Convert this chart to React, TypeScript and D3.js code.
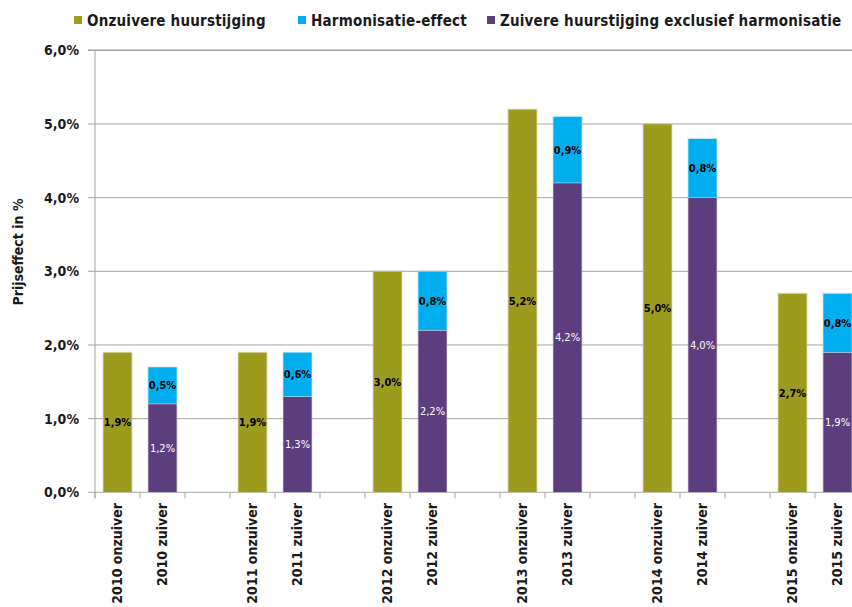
import React from 'react';
import * as d3 from 'd3';

// values (percent)
const years = ['2010', '2011', '2012', '2013', '2014', '2015'];
const onzuiver = [1.9, 1.9, 3.0, 5.2, 5.0, 2.7];
const zuiverExcl = [1.2, 1.3, 2.2, 4.2, 4.0, 1.9];
const harmonisatie = [0.5, 0.6, 0.8, 0.9, 0.8, 0.8];
const yTicks = [0, 1, 2, 3, 4, 5, 6];

const legendItems = [
    { label: 'Onzuivere huurstijging', color: '#9d9b1e' },
    { label: 'Harmonisatie-effect', color: '#00aeef' },
    { label: 'Zuivere huurstijging exclusief harmonisatie', color: '#5c3d7d' },
];

const W = 852;
const H = 607;
const FONT = '"DejaVu Sans Condensed", "DejaVu Sans", sans-serif';

// category slots: onzuiver, zuiver, spacer per year (no spacer after last)
const slots: { key: string; label: string; year: number; kind: string }[] = [];
years.forEach((y, i) => {
    slots.push({ key: y + 'o', label: `${y} onzuiver`, year: i, kind: 'onzuiver' });
    slots.push({ key: y + 'z', label: `${y} zuiver`, year: i, kind: 'zuiver' });
    if (i < years.length - 1) slots.push({ key: y + 'gap', label: '', year: i, kind: 'gap' });
});

const fmt = (v: number) => d3.format('.1f')(v).replace('.', ',') + '%';

const App = () => {
    const x0 = 95;
    const step = 45;
    const x = d3.scaleBand()
        .domain(slots.map(s => s.key))
        .range([x0, x0 + step * slots.length])
        .padding(0);
    const y = d3.scaleLinear().domain([0, 6]).range([492.3, 50.3]);
    const bw = x.bandwidth() * 0.64;
    const barX = (key: string) => (x(key) as number) + (x.bandwidth() - bw) / 2;
    const cx = (key: string) => (x(key) as number) + x.bandwidth() / 2;

    const bars: any[] = [];
    const labels: any[] = [];
    slots.forEach(s => {
        if (s.kind === 'onzuiver') {
            const v = onzuiver[s.year];
            bars.push({ key: s.key, y0: 0, y1: v, color: legendItems[0].color });
            labels.push({ key: s.key, v, mid: v / 2, color: '#000' });
        } else if (s.kind === 'zuiver') {
            const a = zuiverExcl[s.year];
            const b = harmonisatie[s.year];
            bars.push({ key: s.key, y0: 0, y1: a, color: legendItems[2].color });
            bars.push({ key: s.key + 'h', slot: s.key, y0: a, y1: a + b, color: legendItems[1].color });
            labels.push({ key: s.key, v: a, mid: a / 2, color: '#fff' });
            labels.push({ key: s.key, v: b, mid: a + b / 2, color: '#000' });
        }
    });

    const legendX = [74, 298, 487];

    return (
        <svg width={W} height={H} style={{ position: 'absolute', left: 0, top: 0, background: '#fff' }}
             fontFamily={FONT}>
            {/* legend */}
            {legendItems.map((d, i) => (
                <g key={d.label} transform={`translate(${legendX[i]},0)`}>
                    <rect x={0} y={16} width={8} height={8} fill={d.color} />
                    <text x={13} y={25.5} fontSize={15} letterSpacing={0.2} fontWeight="bold"
                          fill="#1a1a1a">{d.label}</text>
                </g>
            ))}

            {/* grid + y ticks */}
            {yTicks.map(t => (
                <g key={t}>
                    <line x1={88} x2={W} y1={y(t)} y2={y(t)}
                          stroke={t === 6 ? '#a0a0a0' : '#a6a6a6'} strokeWidth={t === 6 ? 1.5 : 1} />
                    <text x={79} y={y(t)} dy="0.35em" textAnchor="end" fontSize={14}
                          fontWeight="bold" fill="#1a1a1a">{fmt(t)}</text>
                </g>
            ))}
            <line x1={x0} x2={x0} y1={y(6)} y2={y(0) + 6} stroke="#a6a6a6" />

            {/* x ticks at slot boundaries */}
            {d3.range(slots.length + 1).map(i => (
                <line key={i} x1={x0 + i * step} x2={x0 + i * step} y1={y(0)} y2={y(0) + 6}
                      stroke="#a6a6a6" />
            ))}

            {/* bars */}
            {bars.map(b => {
                const k = b.slot || b.key;
                const top = y(b.y1);
                const h = y(b.y0) - y(b.y1);
                return (
                    <g key={b.key}>
                        <rect x={barX(k) - 1} y={top - 1} width={bw + 2} height={h + 1}
                              fill="#000" opacity={0.07} />
                        <rect x={barX(k)} y={top} width={bw} height={h} fill={b.color}
                              stroke="#ffffff" strokeOpacity={0.5} strokeWidth={0.6} />
                    </g>
                );
            })}

            {/* data labels */}
            {labels.map((l, i) => (
                <text key={i} x={cx(l.key)} y={y(l.mid)} dy="0.35em" textAnchor="middle"
                      fontSize={11} fill={l.color} fontWeight={l.color === '#000' ? 'bold' : 'normal'}>
                    {fmt(l.v)}
                </text>
            ))}

            {/* x labels */}
            {slots.filter(s => s.label).map(s => (
                <text key={s.key} transform={`translate(${cx(s.key)},503) rotate(-90)`}
                      dy="0.35em" textAnchor="end" fontSize={14} fontWeight="bold" fill="#1a1a1a">
                    {s.label}
                </text>
            ))}

            {/* y axis title */}
            <text transform="translate(18,252) rotate(-90)" dy="0.35em" textAnchor="middle"
                  fontSize={14} fontWeight="bold" fill="#1a1a1a">Prijseffect in %</text>
        </svg>
    );
};

export default App;
